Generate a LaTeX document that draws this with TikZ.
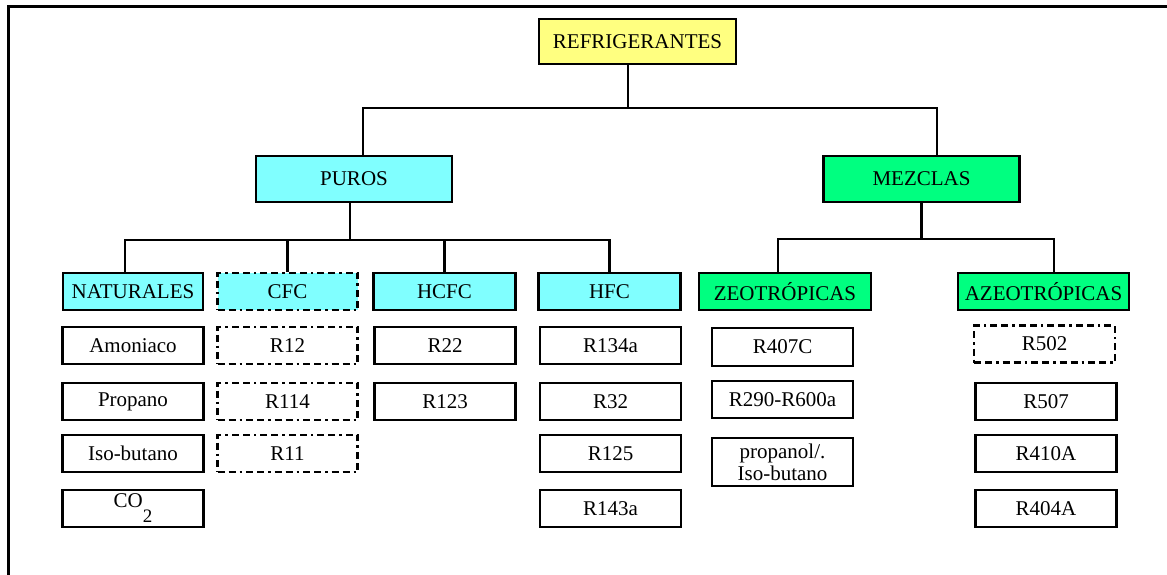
\documentclass[tikz,border=0pt]{standalone}
\usepackage{fontspec}
\setmainfont{Liberation Serif}
\usetikzlibrary{positioning}
\definecolor{rootc}{HTML}{FFFF80}
\definecolor{puroc}{HTML}{80FFFF}
\definecolor{mezc}{HTML}{00FF80}
\tikzset{
  box/.style={draw=black, line width=2.8pt, inner sep=0pt, align=center,
              font=\fontsize{21}{24}\selectfont, minimum height=39pt},
  root/.style={box, fill=rootc, minimum width=197pt, minimum height=45pt},
  grp/.style={box, minimum width=196pt, minimum height=46pt},
  cat/.style={box, minimum width=140pt, minimum height=37pt},
  leaf/.style={box, fill=white, minimum width=141pt, minimum height=37pt},
  dash box/.style={dash pattern=on 7pt off 4pt on 7pt off 4pt on 2.5pt off 4pt},
  link/.style={line width=2.3pt},
  frame/.style={line width=3pt},
}

\begin{document}
\begin{tikzpicture}[x=1pt, y=-1pt]
\useasboundingbox (0,0) rectangle (1167,575);
\draw[frame] (8,575) -- (8,7) -- (1167,7);

% ---------------- top ----------------
\node[root] (ref) at (637.5,41.5) {REFRIGERANTES};
\node[grp, fill=puroc] (puros) at (354,179) {PUROS};
\node[grp, fill=mezc] (mezclas) at (921.5,179) {MEZCLAS};
\coordinate (busa) at (628,108);
\draw[link] ([xshift=-9.5pt]ref.south) -- (busa);
\draw[link] ([xshift=9pt]puros.north) |- (busa) -| ([xshift=15.5pt]mezclas.north);

% ---------------- puros ----------------
\node[cat, fill=puroc] (nat) at (133,291.5) {NATURALES};
\node[cat, fill=puroc, dash box] (cfc) at (287.5,291.5) {CFC};
\node[cat, fill=puroc, minimum width=142pt] (hcfc) at (444.5,291.5) {HCFC};
\node[cat, fill=puroc, minimum width=142pt] (hfc) at (609.5,291.5) {HFC};
\coordinate (busb) at (350,240);
\draw[link] ([xshift=-4pt]puros.south) -- (busb);
\draw[link] ([xshift=-8pt]nat.north) |- (busb) -| (hfc.north);
\foreach \c in {cfc,hcfc} {
  \draw[link] (busb -| \c.north) -- (\c.north);
}

% ---------------- mezclas ----------------
\node[cat, fill=mezc, minimum width=172pt] (zeo) at (785,291.5) {ZEOTRÓPICAS};
\node[cat, fill=mezc, minimum width=171pt] (azeo) at (1043.5,291.5) {AZEOTRÓPICAS};
\coordinate (busc) at (921.5,239);
\draw[link] (mezclas.south) -- (busc);
\draw[link] ([xshift=-7pt]zeo.north) |- (busc) -| ([xshift=10.5pt]azeo.north);

% ---------------- leaves ----------------
\foreach \y/\t [count=\i] in {345.5/Amoniaco, 401.5/Propano, 453.5/Iso-butano,
    508.5/{\raisebox{8pt}{CO}\raisebox{-7pt}{\fontsize{19}{19}\selectfont 2}}} {
  \node[leaf] (nat\i) at (133,\y) {\t};
}
\foreach \y/\t [count=\i] in {345.5/R12, 401.5/R114, 453.5/R11} {
  \node[leaf, dash box, minimum width=140pt] (cfc\i) at (287.5,\y) {\t};
}
\foreach \y/\t [count=\i] in {345.5/R22, 401.5/R123} {
  \node[leaf] (hcfc\i) at (445,\y) {\t};
}
\foreach \y/\t [count=\i] in {345.5/R134a, 401.5/R32, 453.5/R125, 508.5/R143a} {
  \node[leaf] (hfc\i) at (610.5,\y) {\t};
}
\node[leaf, minimum height=38pt] (zeo1) at (782.5,347) {R407C};
\node[leaf] (zeo2) at (782.5,399.5) {R290-R600a};
\node[leaf, minimum height=48pt, font=\fontsize{21}{22}\selectfont] (zeo3) at (782.5,462) {propanol/.\\Iso-butano};
\node[leaf, dash box] (azeo1) at (1044.5,344) {R502};
\foreach \y/\t [count=\i from 2] in {401.5/R507, 453.5/R410A, 508.5/R404A} {
  \node[leaf] (azeo\i) at (1046,\y) {\t};
}

\end{tikzpicture}
\end{document}
